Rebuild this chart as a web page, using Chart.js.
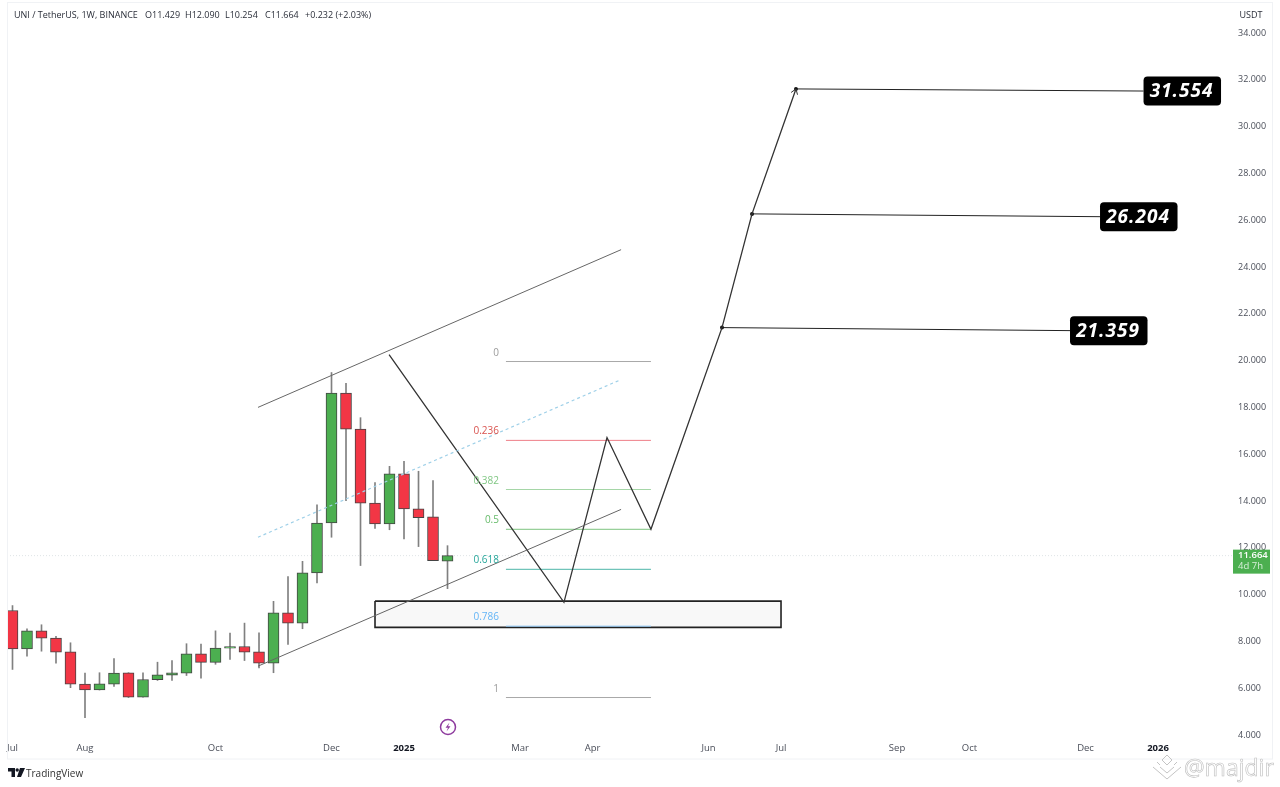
<!DOCTYPE html>
<html>
<head>
<meta charset="utf-8">
<title>UNI / TetherUS</title>
<script src="https://cdn.jsdelivr.net/npm/chart.js@4"></script>
<style>
  html, body { margin: 0; padding: 0; background: #fff; }
  #wrap { position: relative; width: 1280px; height: 787px; overflow: hidden; font-family: "Open Sans", sans-serif; }
  #chart { position: absolute; left: 0; top: 0; }
  .legend span { position: absolute; top: 8px; font-size: 9px; color: #2a2e39; white-space: pre; }
  .unit { position: absolute; left: 1234px; top: 6px; width: 34px; height: 17px; line-height: 17px; text-align: center; font-size: 9px; color: #2a2e39; }
  .brand { position: absolute; left: 26px; top: 766px; font-size: 10px; color: #333; }
  .mark { position: absolute; left: 1184px; top: 751px; font-size: 23px; color: #fff; -webkit-text-stroke: 0.6px #bdbdbd; }
  svg { position: absolute; }
</style>
</head>
<body>
<div id="wrap">
  <canvas id="chart" width="1280" height="787"></canvas>
  <div class="legend">
    <span style="left:14px">UNI / TetherUS, 1W, BINANCE</span>
    <span style="left:145px">O11.429</span>
    <span style="left:185px">H12.090</span>
    <span style="left:225px">L10.254</span>
    <span style="left:265px">C11.664</span>
    <span style="left:305px">+0.232 (+2.03%)</span>
  </div>
  <div class="unit">USDT</div>
  <svg style="left:439px;top:718px" width="18" height="18" viewBox="0 0 18 18">
    <circle cx="9" cy="9" r="7.5" fill="none" stroke="#8e3b9e" stroke-width="1.5"/>
    <path d="M10.5 4.5 L6.5 9.8 H9 L7.5 13.5 L11.5 8.2 H9 Z" fill="#8e3b9e"/>
  </svg>
  <svg style="left:8px;top:768px" width="17" height="10" viewBox="0 0 17 10">
    <path d="M0 0 H7 V9 H3.5 V3.5 H0 Z M12 0 H17 L13 9 H9 Z" fill="#131722"/>
    <circle cx="9.2" cy="2" r="1.7" fill="#131722"/>
  </svg>
  <div class="brand">TradingView</div>
  <svg style="left:1152px;top:754px" width="30" height="26" viewBox="0 0 30 26">
    <path d="M15 1 L20 6 L15 11 L10 6 Z M5 8 L8 11 M25 8 L22 11 M1 13 L15 25 L29 13 M8 13 L15 19 L22 13" fill="none" stroke="#c4c4c4" stroke-width="1"/>
  </svg>
  <div class="mark">@majdir</div>
</div>
<script>
// ── Data ──
const weeks  = [0,1,2,3,4,5,6,7,8,9,10,11,12,13,14,15,16,17,18,19,20,21,22,23,24,25,26,27,28,29,30];
const opens  = [9.32,7.68,8.45,8.14,7.55,6.17,5.92,6.17,6.66,5.62,6.36,6.56,6.64,7.47,7.10,7.71,7.78,7.55,7.07,9.22,8.78,10.93,13.06,18.61,17.07,13.91,13.02,15.16,13.66,13.32,11.429];
const highs  = [9.53,8.54,8.71,8.21,7.94,6.64,6.66,7.26,6.66,6.66,7.11,7.18,7.90,7.88,8.45,8.35,8.78,8.37,9.71,10.77,11.42,13.83,19.49,19.03,17.56,14.79,15.48,15.69,15.27,14.87,12.09];
const lows   = [6.80,7.37,7.58,7.07,6.02,4.74,5.92,6.07,5.60,5.62,6.33,6.33,6.54,6.43,7.02,7.23,7.18,6.87,6.66,7.87,8.54,10.50,12.45,14.01,11.24,12.83,12.77,12.38,12.05,11.45,10.254];
const closes = [7.68,8.45,8.14,7.54,6.17,5.92,6.19,6.64,5.62,6.37,6.57,6.66,7.47,7.10,7.71,7.78,7.54,7.07,9.22,8.78,10.93,13.06,18.61,17.07,13.91,13.02,15.16,13.66,13.29,11.45,11.664];

const timeTicks  = [0,5,14,22,27,35,40,48,53,61,66,74,79];
const timeLabels = ['Jul','Aug','Oct','Dec','2025','Mar','Apr','Jun','Jul','Sep','Oct','Dec','2026'];
const priceTicks = [4,6,8,10,12,14,16,18,20,22,24,26,28,30,32,34];

const lastPrice = 11.664;

// Channel drawn on the chart
const channelX    = [16.93, 41.97];
const channelHigh = [18.0, 24.74];
const channelMid  = [12.45, 19.19];
const channelLow  = [6.94, 13.64];

// Projected path
const pathX = [25.97, 38.03, 41, 44.03, 48.93, 51, 54.03];
const pathY = [20.26, 9.67, 16.71, 12.79, 21.41, 26.27, 31.61];

// Targets
const targetNames = ['31.554', '26.204', '21.359'];
const targetFromX = [54.03, 51, 48.93];
const targetToX   = [78, 75, 72.93];
const targetFromY = [31.61, 26.27, 21.41];
const targetToY   = [31.52, 26.15, 21.28];

// Fib levels
const fibNames  = ['0', '0.236', '0.382', '0.5', '0.618', '0.786', '1'];
const fibPrices = [19.96, 16.59, 14.49, 12.79, 11.08, 8.65, 5.6];
const fibColors = ['#a8a8a8', '#ee7f88', '#a5d6a7', '#7cc47f', '#4db6a8', '#8cc6f5', '#a8a8a8'];
const fibTextColors = ['#9a9a9a', '#d9534f', '#81c784', '#66bb6a', '#26a69a', '#64b5f6', '#9a9a9a'];
const fibStart = 34.03;
const fibEnd   = 44.03;

// Zone box
const zoneX = [25, 53];
const zoneY = [9.72, 8.6];

const UP = '#4caf50';
const DOWN = '#f23645';
const FONT = '"Open Sans", sans-serif';

// ── Datasets ──
function lineSet(data, color, extra = {}) {
    return {
        type: 'line', data, borderColor: color, borderWidth: 1, pointRadius: 0,
        tension: 0, fill: false, order: 1, ...extra,
    };
}

const datasets = [
    {
        type: 'bar',
        data: weeks.map((w, i) => ({ x: w, y: [lows[i], highs[i]] })),
        backgroundColor: '#808080',
        barThickness: 1,
        grouped: false,
        order: 5,
    },
    {
        type: 'bar',
        data: weeks.map((w, i) => ({ x: w, y: [opens[i], closes[i]] })),
        backgroundColor: weeks.map((_, i) => closes[i] >= opens[i] ? UP : DOWN),
        borderColor: '#444',
        borderWidth: 1,
        borderSkipped: false,
        barThickness: 11,
        grouped: false,
        order: 4,
    },
    // zone
    lineSet([
        { x: zoneX[0], y: zoneY[0] }, { x: zoneX[1], y: zoneY[0] },
        { x: zoneX[1], y: zoneY[1] }, { x: zoneX[0], y: zoneY[1] },
        { x: zoneX[0], y: zoneY[0] },
    ], '#222', { borderWidth: 1.6, fill: 'shape', backgroundColor: '#f8f8f8', order: 3 }),
    // last price line
    lineSet([{ x: -1, y: lastPrice }, { x: 85, y: lastPrice }], '#dfe3e6', { borderDash: [1, 2], order: 6 }),
    // channel
    lineSet(channelX.map((x, i) => ({ x, y: channelHigh[i] })), '#666'),
    lineSet(channelX.map((x, i) => ({ x, y: channelLow[i] })), '#666'),
    lineSet(channelX.map((x, i) => ({ x, y: channelMid[i] })), '#9fd0e8', { borderDash: [3, 3], borderWidth: 1.2 }),
    // path
    lineSet(pathX.map((x, i) => ({ x, y: pathY[i] })), '#333', { borderWidth: 1.3 }),
];

// fib lines
fibPrices.forEach((p, i) => {
    datasets.push(lineSet([{ x: fibStart, y: p }, { x: fibEnd, y: p }], fibColors[i], { order: 2 }));
});

// target lines
targetNames.forEach((_, i) => {
    datasets.push(lineSet(
        [{ x: targetFromX[i], y: targetFromY[i] }, { x: targetToX[i], y: targetToY[i] }],
        '#222',
        { pointRadius: [2, 0], pointBackgroundColor: '#111', pointBorderWidth: 0 }
    ));
});

// ── Labels on top of the plot ──
const labelsPlugin = {
    id: 'labels',
    afterDraw(chart) {
        const { ctx, scales: { x, y } } = chart;
        ctx.save();

        // frame
        ctx.strokeStyle = '#f0f2f5';
        ctx.lineWidth = 1;
        ctx.strokeRect(7.5, 2.5, 1265, 756.5);

        // fib labels
        ctx.font = `10px ${FONT}`;
        ctx.textAlign = 'right';
        ctx.textBaseline = 'alphabetic';
        fibNames.forEach((name, i) => {
            ctx.fillStyle = fibTextColors[i];
            ctx.fillText(name, x.getPixelForValue(fibStart) - 7, y.getPixelForValue(fibPrices[i]) - 6);
        });

        // arrow head on the last leg of the path
        const n = pathX.length - 1;
        const tipX = x.getPixelForValue(pathX[n]);
        const tipY = y.getPixelForValue(pathY[n]);
        const ang = Math.atan2(y.getPixelForValue(pathY[n - 1]) - tipY, x.getPixelForValue(pathX[n - 1]) - tipX);
        ctx.strokeStyle = '#333';
        [-0.6, 0.6].forEach(d => {
            ctx.beginPath();
            ctx.moveTo(tipX, tipY);
            ctx.lineTo(tipX + Math.cos(ang + d) * 6, tipY + Math.sin(ang + d) * 6);
            ctx.stroke();
        });

        // target boxes
        targetNames.forEach((name, i) => {
            const left = x.getPixelForValue(targetToX[i]);
            const mid = y.getPixelForValue(targetToY[i]);
            ctx.fillStyle = '#000';
            ctx.beginPath();
            ctx.roundRect(left, mid - 14.5, 77.5, 29, 4);
            ctx.fill();
            ctx.fillStyle = '#fff';
            ctx.font = `italic bold 19px ${FONT}`;
            ctx.textAlign = 'center';
            ctx.textBaseline = 'middle';
            ctx.letterSpacing = '1px';
            ctx.fillText(name, left + 38, mid + 0.5);
            ctx.letterSpacing = '0px';
        });

        // last price tag
        const py = y.getPixelForValue(lastPrice);
        ctx.fillStyle = UP;
        ctx.fillRect(1233, py - 6, 37, 24);
        ctx.fillStyle = '#fff';
        ctx.font = `600 9.5px ${FONT}`;
        ctx.textAlign = 'left';
        ctx.textBaseline = 'middle';
        ctx.fillText(lastPrice.toFixed(3), 1238, py);
        ctx.font = `9.5px ${FONT}`;
        ctx.fillStyle = '#d9f0da';
        ctx.fillText('4d 7h', 1238, py + 11);
        ctx.restore();
    },
};

function noEdgePadding(scale) {
    scale.paddingLeft = 0;
    scale.paddingRight = 0;
    scale.paddingTop = 0;
    scale.paddingBottom = 0;
}

new Chart(document.getElementById('chart').getContext('2d'), {
    data: { datasets },
    plugins: [labelsPlugin],
    options: {
        responsive: false,
        animation: false,
        layout: { padding: { left: 8, top: 3, right: 0, bottom: 0 } },
        plugins: { legend: { display: false }, tooltip: { enabled: false } },
        scales: {
            x: {
                type: 'linear',
                offset: false,
                min: -0.31,
                max: 84.17,
                grid: { display: false, drawTicks: false, offset: false },
                border: { display: false },
                afterFit(scale) { noEdgePadding(scale); scale.height = 49; },
                afterBuildTicks(scale) { scale.ticks = timeTicks.map(value => ({ value })); },
                ticks: {
                    autoSkip: false,
                    maxRotation: 0,
                    padding: 5,
                    color: ctx => /^20/.test(timeLabels[ctx.index] || '') ? '#131722' : '#4a4e59',
                    font: ctx => ({
                        family: FONT,
                        size: 9.5,
                        weight: /^20/.test(timeLabels[ctx.index] || '') ? 'bold' : 'normal',
                    }),
                    callback: value => timeLabels[timeTicks.indexOf(value)],
                },
            },
            y: {
                type: 'linear',
                position: 'right',
                min: 3.87,
                max: 35.24,
                grid: { display: false, drawTicks: false },
                border: { display: false },
                afterFit(scale) { noEdgePadding(scale); scale.width = 47; },
                afterBuildTicks(scale) { scale.ticks = priceTicks.map(value => ({ value })); },
                ticks: {
                    padding: 5,
                    color: '#4a4e59',
                    font: { family: FONT, size: 9 },
                    callback: value => value.toFixed(3),
                },
            },
        },
    },
});
</script>
</body>
</html>
